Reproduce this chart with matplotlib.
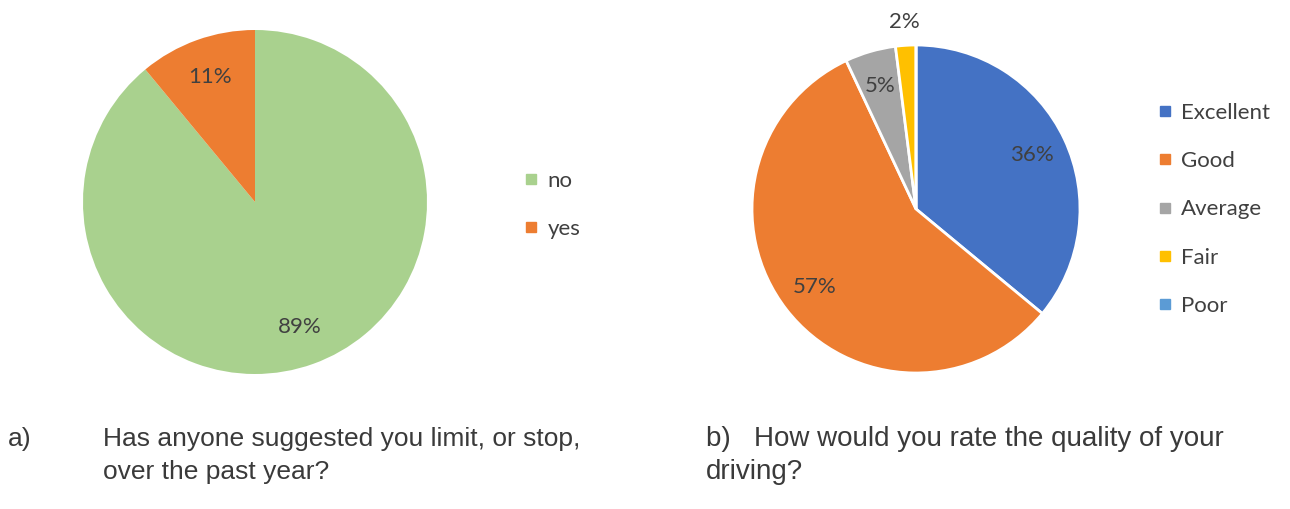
import matplotlib.pyplot as plt
from matplotlib.lines import Line2D
import numpy as np

# left chart data
a_labels = ['no', 'yes']
a_values = [89, 11]
a_colors = ['#A9D18E', '#ED7D31']

# right chart data
b_labels = ['Excellent', 'Good', 'Average', 'Fair', 'Poor']
b_values = [36, 57, 5, 2, 0]
b_colors = ['#4472C4', '#ED7D31', '#A5A5A5', '#FFC000', '#5B9BD5']

cap_a = ['a)', ['Has anyone suggested you limit, or stop,', 'over the past year?']]
cap_b = ['b)   How would you rate the quality of your', 'driving?']

W, H = 1290, 509
fig = plt.figure(figsize=(W / 100, H / 100), dpi=100)
ax = fig.add_axes([0, 0, 1, 1])

lab_font = dict(family=['Lato', 'DejaVu Sans'], size=16, color='#404040')


def pct(v):
    return '' if v < 0.5 else '%d%%' % round(v)


# pie a
wa, ta, pa = ax.pie(a_values, colors=a_colors, startangle=90, counterclock=False,
                    center=(255, H - 202), radius=172, autopct=pct,
                    pctdistance=0.77, textprops=lab_font, frame=True)

# pie b (white edges)
wb, tb, pb = ax.pie(b_values, colors=b_colors, startangle=90, counterclock=False,
                    center=(916, H - 209), radius=164, autopct=pct,
                    pctdistance=0.78, textprops=lab_font, frame=True,
                    wedgeprops=dict(edgecolor='white', linewidth=2))
# the tiny slice gets its label outside
w = wb[3]
ang = np.deg2rad((w.theta1 + w.theta2) / 2)
pb[3].set_position((916 + 1.14 * 164 * np.cos(ang), H - 209 + 1.14 * 164 * np.sin(ang)))

ax.set_xlim(0, W)
ax.set_ylim(0, H)
ax.set_aspect('equal')
ax.axis('off')

leg_font = dict(family=['Lato', 'DejaVu Sans'], size=16)


def handles(labels, colors):
    return [Line2D([], [], marker='s', linestyle='none', markersize=7.5,
                   markerfacecolor=c, markeredgecolor=c, label=l)
            for l, c in zip(labels, colors)]


leg_kw = dict(loc='upper left', frameon=False, prop=leg_font, labelspacing=1.27,
              handlelength=0.6, handletextpad=0.45, borderpad=0, borderaxespad=0,
              labelcolor='#404040')
leg1 = ax.legend(handles=handles(a_labels, a_colors),
                 bbox_to_anchor=(524 / W, 1 - 171 / H), **leg_kw)
ax.add_artist(leg1)
ax.legend(handles=handles(b_labels, b_colors),
          bbox_to_anchor=(1158 / W, 1 - 103 / H), **leg_kw)

cap_font = dict(family=['Liberation Sans', 'DejaVu Sans'], color='#3a3a3a', va='baseline')
# captions, one text per line (33 px apart)
ax.text(8, H - 446, cap_a[0], size=19, **cap_font)
for i, line in enumerate(cap_a[1]):
    ax.text(103, H - 446 - 33 * i, line, size=19, **cap_font)
for i, line in enumerate(cap_b):
    ax.text(706, H - 446 - 33 * i, line, size=20, **cap_font)

fig.savefig('out.png', dpi=100)
